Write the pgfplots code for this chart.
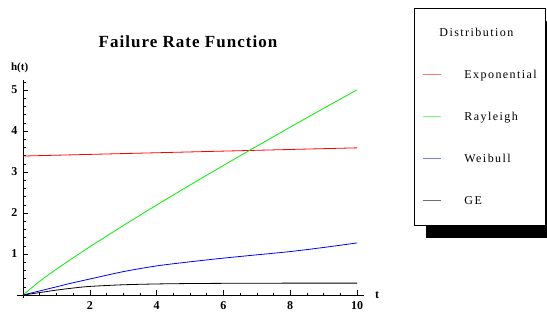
\documentclass[border=0pt]{standalone}
\usepackage{pgfplots}
\pgfplotsset{compat=1.18}
\usepackage{fontspec}
\setmainfont{Liberation Serif}
\usetikzlibrary{backgrounds}
\newfontfamily\titlefont[LetterSpace=6]{Liberation Serif}
\newfontfamily\legfont[LetterSpace=12]{Liberation Serif}
\definecolor{myred}{RGB}{255,0,0}
\definecolor{mygreen}{RGB}{0,240,0}
\definecolor{myblue}{RGB}{0,0,255}
\definecolor{lred}{RGB}{255,120,120}
\definecolor{lgreen}{RGB}{110,250,110}
\definecolor{lblue}{RGB}{120,120,255}
\definecolor{lgray}{RGB}{110,110,110}
\newcommand\ls{\rule[-3pt]{0pt}{13pt}}
\begin{document}
\begin{tikzpicture}[x=1pt,y=1pt]
\path[use as bounding box] (0,0) rectangle (547,320);
\begin{axis}[
  scale only axis,
  x=33.4pt, y=41pt,
  xmin=-0.18, xmax=10.2, ymin=-0.07, ymax=5.25,
  anchor=south west, at={(17pt,22.1pt)},
  axis lines=middle,
  axis line style={-, line width=0.6pt},
  xtick={2,4,6,8,10}, ytick={1,2,3,4,5},
  minor xtick={0.5,1,...,9.5},
  minor ytick={0.2,0.4,...,5.2},
  tick align=inside,
  major tick length=5pt, minor tick length=2.5pt,
  tick style={black, line width=0.5pt},
  /pgf/number format/assume math mode=true,
  ticklabel style={font=\bfseries\fontsize{12}{12}\selectfont},
  xticklabel style={yshift=-3pt},
  yticklabel style={xshift=-2pt},
  xlabel={t}, ylabel={h(t)},
  every axis x label/.style={at={(axis cs:10.6,0)}, anchor=center, font=\bfseries\fontsize{12}{12}\selectfont},
  every axis y label/.style={at={(axis cs:-0.1,5.55)}, anchor=center, font=\bfseries\fontsize{11}{11}\selectfont},
  legend cell align=left,
  legend image code/.code={\draw[#1] (0pt,0pt) -- (18pt,0pt);},
  legend style={name=leg, at={(1.145,1.329)}, anchor=north west, draw=black, line width=0.5pt, fill=white,
    inner xsep=8pt, inner ysep=18.5pt, row sep=30.5pt,
    font=\legfont\fontsize{12}{12}\selectfont,
    nodes={inner sep=0pt},
    /tikz/every odd column/.append style={column sep=23pt}},
]
\addlegendimage{empty legend}
\addlegendentry{\ls\hspace{-25pt}Distribution}
\addlegendimage{lred, line width=1.2pt}
\addlegendentry{\ls Exponential}
\addlegendimage{lgreen, line width=1.2pt}
\addlegendentry{\ls Rayleigh}
\addlegendimage{lblue, line width=1.2pt}
\addlegendentry{\ls Weibull}
\addlegendimage{lgray, line width=1.2pt}
\addlegendentry{\ls GE}
\addplot[myred, line width=0.8pt, forget plot] coordinates {(0,3.39) (2,3.43) (4,3.47) (6,3.51) (8,3.55) (10,3.59)};
\addplot[mygreen, line width=0.8pt, smooth, forget plot] coordinates {(0,0) (0.5,0.337) (1,0.63) (1.5,0.907) (2,1.176) (3,1.693) (4,2.194) (5,2.682) (6,3.160) (7,3.630) (8,4.094) (9,4.552) (10,5.004)};
\addplot[myblue, line width=0.8pt, smooth, forget plot] coordinates {(0,0) (0.5,0.1) (1,0.2) (1.5,0.3) (2,0.39) (3,0.57) (4,0.71) (5,0.81) (6,0.9) (7,0.98) (8,1.06) (9,1.16) (10,1.27)};
\addplot[black, line width=0.8pt, smooth, forget plot] coordinates {(0,0) (0.5,0.06) (1,0.12) (1.5,0.17) (2,0.21) (3,0.25) (4,0.27) (5,0.28) (6,0.285) (8,0.29) (10,0.29)};
\end{axis}
\begin{scope}[on background layer]
\fill[black] ([xshift=12pt,yshift=-13pt]leg.south west) rectangle ([xshift=12pt,yshift=-13pt]leg.north east);
\end{scope}
\node[font=\titlefont\bfseries\fontsize{17}{17}\selectfont] at (188,278) {Failure Rate Function};
\end{tikzpicture}
\end{document}
